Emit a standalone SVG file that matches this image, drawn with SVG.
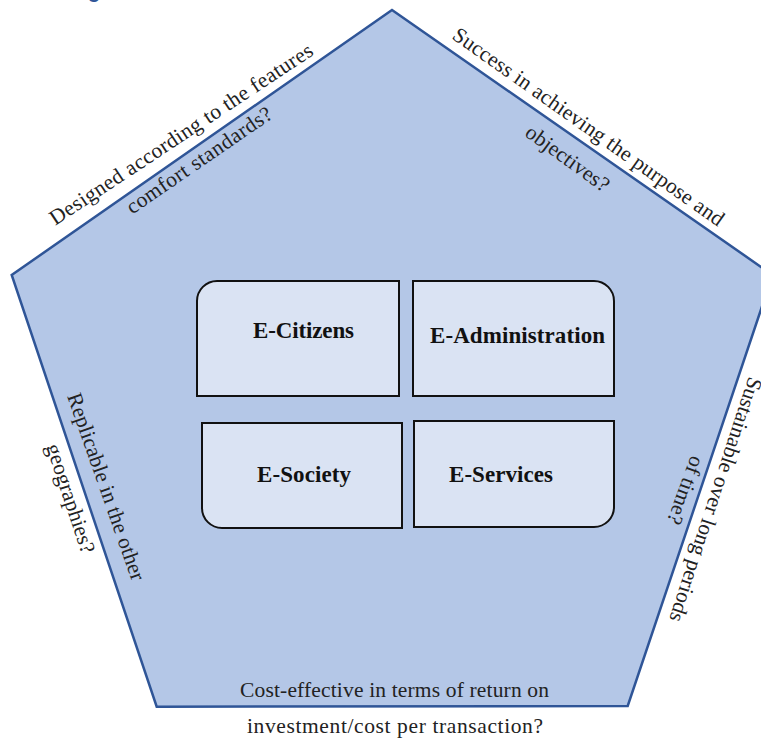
<svg xmlns="http://www.w3.org/2000/svg" width="761" height="738" viewBox="0 0 761 738">
  <style>
    .pent { fill: #b4c7e7; stroke: #2f5597; stroke-width: 2.5; stroke-linejoin: miter; }
    .box { fill: #dae3f3; stroke: #111; stroke-width: 2; }
    .lbl { font-family: "Liberation Serif", "Times New Roman", serif; font-weight: bold; font-size: 23px; fill: #111; }
    .side { font-family: "Liberation Serif", "Times New Roman", serif; font-size: 21.5px; fill: #222; text-anchor: middle; }
    .head { font-family: "Liberation Sans", Arial, sans-serif; font-weight: bold; font-size: 20px; fill: #2f5597; }
  </style>

  <rect width="761" height="738" fill="#ffffff"/>

  <!-- heading cropped at the top edge -->
  <text class="head" x="88" y="-2">g</text>

  <!-- outer pentagon -->
  <g id="pentagon">
    <polygon class="pent" points="392,10 772.6,275 627.7,706 156.7,706.7 11.7,275"/>
  </g>

  <!-- edge questions -->
  <g id="edge-labels">
    <text class="side" transform="translate(185,140) rotate(-33.5)" textLength="311" lengthAdjust="spacing">Designed according to the features</text>
    <text class="side" transform="translate(203,166) rotate(-34.5)" textLength="172" lengthAdjust="spacing">comfort standards?</text>
    <text class="side" transform="translate(584.5,132.5) rotate(35.3)" textLength="327" lengthAdjust="spacing">Success in achieving the purpose and</text>
    <text class="side" transform="translate(563.5,164) rotate(36)" textLength="98" lengthAdjust="spacing">objectives?</text>
    <text class="side" transform="translate(99.5,489) rotate(70.7)" textLength="197" lengthAdjust="spacing">Replicable in the other</text>
    <text class="side" transform="translate(64,500.7) rotate(71.6)" textLength="114" lengthAdjust="spacing">geographies?</text>
    <text class="side" transform="translate(709,497.5) rotate(108.2)" textLength="256" lengthAdjust="spacing">Sustainable over long periods</text>
    <text class="side" transform="translate(679,488) rotate(110)" textLength="71" lengthAdjust="spacing">of time?</text>
    <text class="side" x="394.5" y="697" textLength="309" lengthAdjust="spacing">Cost-effective in terms of return on</text>
    <text class="side" x="395" y="732.5" textLength="296" lengthAdjust="spacing">investment/cost per transaction?</text>
  </g>

  <!-- four inner blocks, each with one rounded outer corner -->
  <g id="e-citizens">
    <path class="box" d="M197,396 V301 A20,20 0 0 1 217,281 H399 V396 Z"/>
    <text class="lbl" x="253" y="338" textLength="101" lengthAdjust="spacing">E-Citizens</text>
  </g>
  <g id="e-administration">
    <path class="box" d="M413,396 V281 H594 A20,20 0 0 1 614,301 V396 Z"/>
    <text class="lbl" x="430" y="343" textLength="175" lengthAdjust="spacing">E-Administration</text>
  </g>
  <g id="e-society">
    <path class="box" d="M202,423 H402 V528 H222 A20,20 0 0 1 202,508 Z"/>
    <text class="lbl" x="257" y="482" textLength="94" lengthAdjust="spacing">E-Society</text>
  </g>
  <g id="e-services">
    <path class="box" d="M414,421 H614 V507 A20,20 0 0 1 594,527 H414 Z"/>
    <text class="lbl" x="449" y="482" textLength="104" lengthAdjust="spacing">E-Services</text>
  </g>

  <g id="connectors"/>
</svg>
